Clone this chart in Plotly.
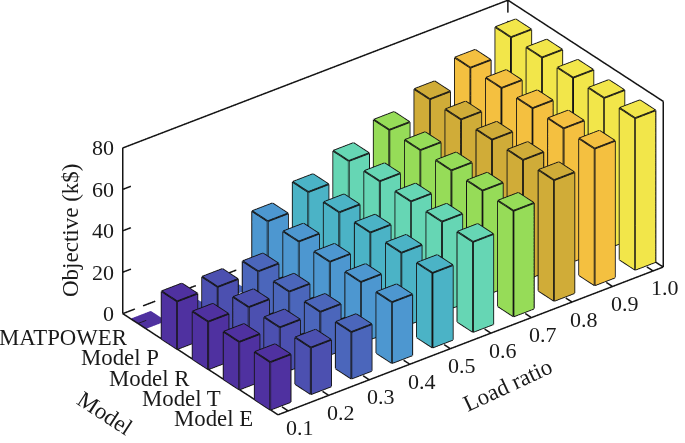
import math
import plotly.graph_objects as go

load_ratio = ['0.1', '0.2', '0.3', '0.4', '0.5', '0.6', '0.7', '0.8', '0.9', '1.0']
models = ['MATPOWER', 'Model P', 'Model R', 'Model T', 'Model E']
z_ticks = [0, 20, 40, 60, 80]

matpower = [0, 0, 0, 29.4, 36, 43.5, 51, 58.3, 66, 73.2]
model_p = [23, 22.5, 22.5, 29.4, 36, 43.5, 51, 58.3, 66, 73.2]
model_r = [23, 22.5, 22.5, 29.4, 36, 43.5, 51, 58.3, 66, 73.2]
model_t = [23, 22.5, 22.5, 29.4, 36, 43.5, 51, 58.3, 66, 73.2]
model_e = [23, 22.5, 22.5, 29.4, 36, 43.5, 51, 58.3, 66, 73.2]
values = [matpower, model_p, model_r, model_t, model_e]

colors = ['#4f31a0', '#4c50b0', '#4b66bb', '#4d97d0', '#4bb3c6',
          '#66d6b4', '#96dc58', '#d0ac38', '#f4c040', '#f2e64a']

FONT = 'Liberation Serif'
FSIZE = 22
xmin, xmax = 0.75, 10.25
ymin, ymax = 0.5, 5.5
zmin, zmax = 0, 80
half = 0.25

vx, vy, vz, fi, fj, fk, fc = [], [], [], [], [], [], []
ex, ey, ez = [], [], []

# side and top faces of a box, by corner number
quads = [(0, 1, 2, 3), (4, 5, 6, 7), (0, 1, 5, 4), (1, 2, 6, 5), (2, 3, 7, 6), (3, 0, 4, 7)]
edges = [(0, 1), (1, 2), (2, 3), (3, 0), (4, 5), (5, 6), (6, 7), (7, 4), (0, 4), (1, 5), (2, 6), (3, 7)]

for m in range(len(models)):
    ypos = len(models) - m
    for i in range(len(load_ratio)):
        xpos = i + 1
        h = values[m][i]
        c = [(xpos - half, ypos - half, 0), (xpos + half, ypos - half, 0),
             (xpos + half, ypos + half, 0), (xpos - half, ypos + half, 0),
             (xpos - half, ypos - half, h), (xpos + half, ypos - half, h),
             (xpos + half, ypos + half, h), (xpos - half, ypos + half, h)]
        n = len(vx)
        for p in c:
            vx.append(p[0])
            vy.append(p[1])
            vz.append(p[2])
        for q in quads:
            fi += [n + q[0], n + q[0]]
            fj += [n + q[1], n + q[2]]
            fk += [n + q[2], n + q[3]]
            fc += [colors[i], colors[i]]
        if h > 0:
            for a, b in edges:
                ex += [c[a][0], c[b][0], None]
                ey += [c[a][1], c[b][1], None]
                ez += [c[a][2], c[b][2], None]

fig = go.Figure()
fig.add_trace(go.Mesh3d(x=vx, y=vy, z=vz, i=fi, j=fj, k=fk, facecolor=fc, flatshading=True,
                        lighting=dict(ambient=1, diffuse=0, specular=0, fresnel=0, roughness=1),
                        hoverinfo='skip', showscale=False))
fig.add_trace(go.Scatter3d(x=ex, y=ey, z=ez, mode='lines', line=dict(color='#141414', width=3.6),
                           hoverinfo='skip', showlegend=False))

# solid part of the box and the ticks
bx = [xmin, xmin, xmax, xmax, None, xmin, xmin, None, xmax, xmax, None, xmin, xmax]
by = [ymax, ymax, ymax, ymin, None, ymax, ymin, None, ymin, ymin, None, ymin, ymin]
bz = [zmin, zmax, zmax, zmax, None, zmin, zmin, None, zmin, zmax, None, zmin, zmin]
for t in z_ticks[1:-1]:
    bx += [None, xmin, xmin + 0.2]
    by += [None, ymax, ymax]
    bz += [None, t, t]
for i in range(len(load_ratio)):
    bx += [None, i + 1, i + 1]
    by += [None, ymin, ymin + 0.2]
    bz += [None, 0, 0]
for m in range(len(models)):
    bx += [None, xmin, xmin + 0.2]
    by += [None, m + 1, m + 1]
    bz += [None, 0, 0]
fig.add_trace(go.Scatter3d(x=bx, y=by, z=bz, mode='lines', line=dict(color='#141414', width=3),
                           hoverinfo='skip', showlegend=False))


# hidden edges at the back are dashed; line.dash stretches too far on long edges
def dashes(p, q, count):
    out = ([], [], [])
    for s in range(count):
        t0 = s / count
        t1 = (s + 0.6) / count
        for n in range(3):
            out[n].extend([p[n] + (q[n] - p[n]) * t0, p[n] + (q[n] - p[n]) * t1, None])
    return out


back = (xmax, ymax, zmin)
dx, dy, dz = [], [], []
for p, q, count in [((xmin, ymax, zmin), back, 19), ((xmax, ymin, zmin), back, 9), ((xmax, ymax, zmax), back, 8)]:
    seg = dashes(p, q, count)
    dx += seg[0]
    dy += seg[1]
    dz += seg[2]
fig.add_trace(go.Scatter3d(x=dx, y=dy, z=dz, mode='lines', line=dict(color='#141414', width=3),
                           hoverinfo='skip', showlegend=False))

labels = []
for t in z_ticks:
    labels.append(dict(x=xmin, y=ymax, z=t, text=str(t), showarrow=False, xanchor='right', xshift=-7))
for i, name in enumerate(load_ratio):
    labels.append(dict(x=i + 1, y=ymin, z=0, text=name, showarrow=False, xshift=12, yshift=-17))
for m, name in enumerate(models):
    labels.append(dict(x=xmin, y=len(models) - m, z=0, text=name, showarrow=False, xanchor='right',
                       xshift=-8, yshift=-14, font=dict(size=22.8)))

az = math.radians(37.5)
el = math.radians(30)
r = 2.5
k = 1.156
# camera moved so the box sits right of and above the page centre
px_per_unit = 443 / 2
shift_right = 50.5 / px_per_unit
shift_up = 14 / px_per_unit
right = (math.cos(az), -math.sin(az), 0)
up = (math.sin(az) * math.sin(el), math.cos(az) * math.sin(el), math.cos(el))
view = (-math.sin(az) * math.cos(el), -math.cos(az) * math.cos(el), math.sin(el))
center = [-shift_right * right[n] - shift_up * up[n] for n in range(3)]
eye = [r * view[n] + center[n] for n in range(3)]

hidden = dict(visible=False, showgrid=False, zeroline=False, showticklabels=False,
              showbackground=False, showspikes=False)

fig.update_layout(
    width=685, height=443, margin=dict(l=0, r=0, t=0, b=0),
    paper_bgcolor='white', showlegend=False,
    font=dict(family=FONT, size=FSIZE, color='#1a1a1a'),
    scene=dict(
        domain=dict(x=[0, 1], y=[0, 1]),
        # a hair wider than the box, lines exactly on the limit get clipped
        xaxis=dict(range=[xmin - 0.01, xmax + 0.01], **hidden),
        yaxis=dict(range=[ymin - 0.01, ymax + 0.01], **hidden),
        zaxis=dict(range=[zmin - 0.1, zmax + 0.1], **hidden),
        aspectmode='manual', aspectratio=dict(x=1.9 * k, y=1 * k, z=0.749 * k),
        camera=dict(projection=dict(type='orthographic'), up=dict(x=0, y=0, z=1),
                    center=dict(x=center[0], y=center[1], z=center[2]),
                    eye=dict(x=eye[0], y=eye[1], z=eye[2])),
        annotations=labels,
    ),
    annotations=[
        dict(text='Objective (k$)', x=70 / 685, y=1 - 231 / 443, xref='paper', yref='paper',
             xanchor='center', yanchor='middle', showarrow=False, textangle=-90, font=dict(size=23)),
        dict(text='Load ratio', x=507 / 685, y=1 - 385 / 443, xref='paper', yref='paper',
             xanchor='center', yanchor='middle', showarrow=False, textangle=-25, font=dict(size=23)),
        dict(text='Model', x=105 / 685, y=1 - 413 / 443, xref='paper', yref='paper',
             xanchor='center', yanchor='middle', showarrow=False, textangle=33, font=dict(size=23)),
    ],
)

fig.write_html("out.html", config=dict(displayModeBar=False), post_script="document.body.style.margin = '0';")
